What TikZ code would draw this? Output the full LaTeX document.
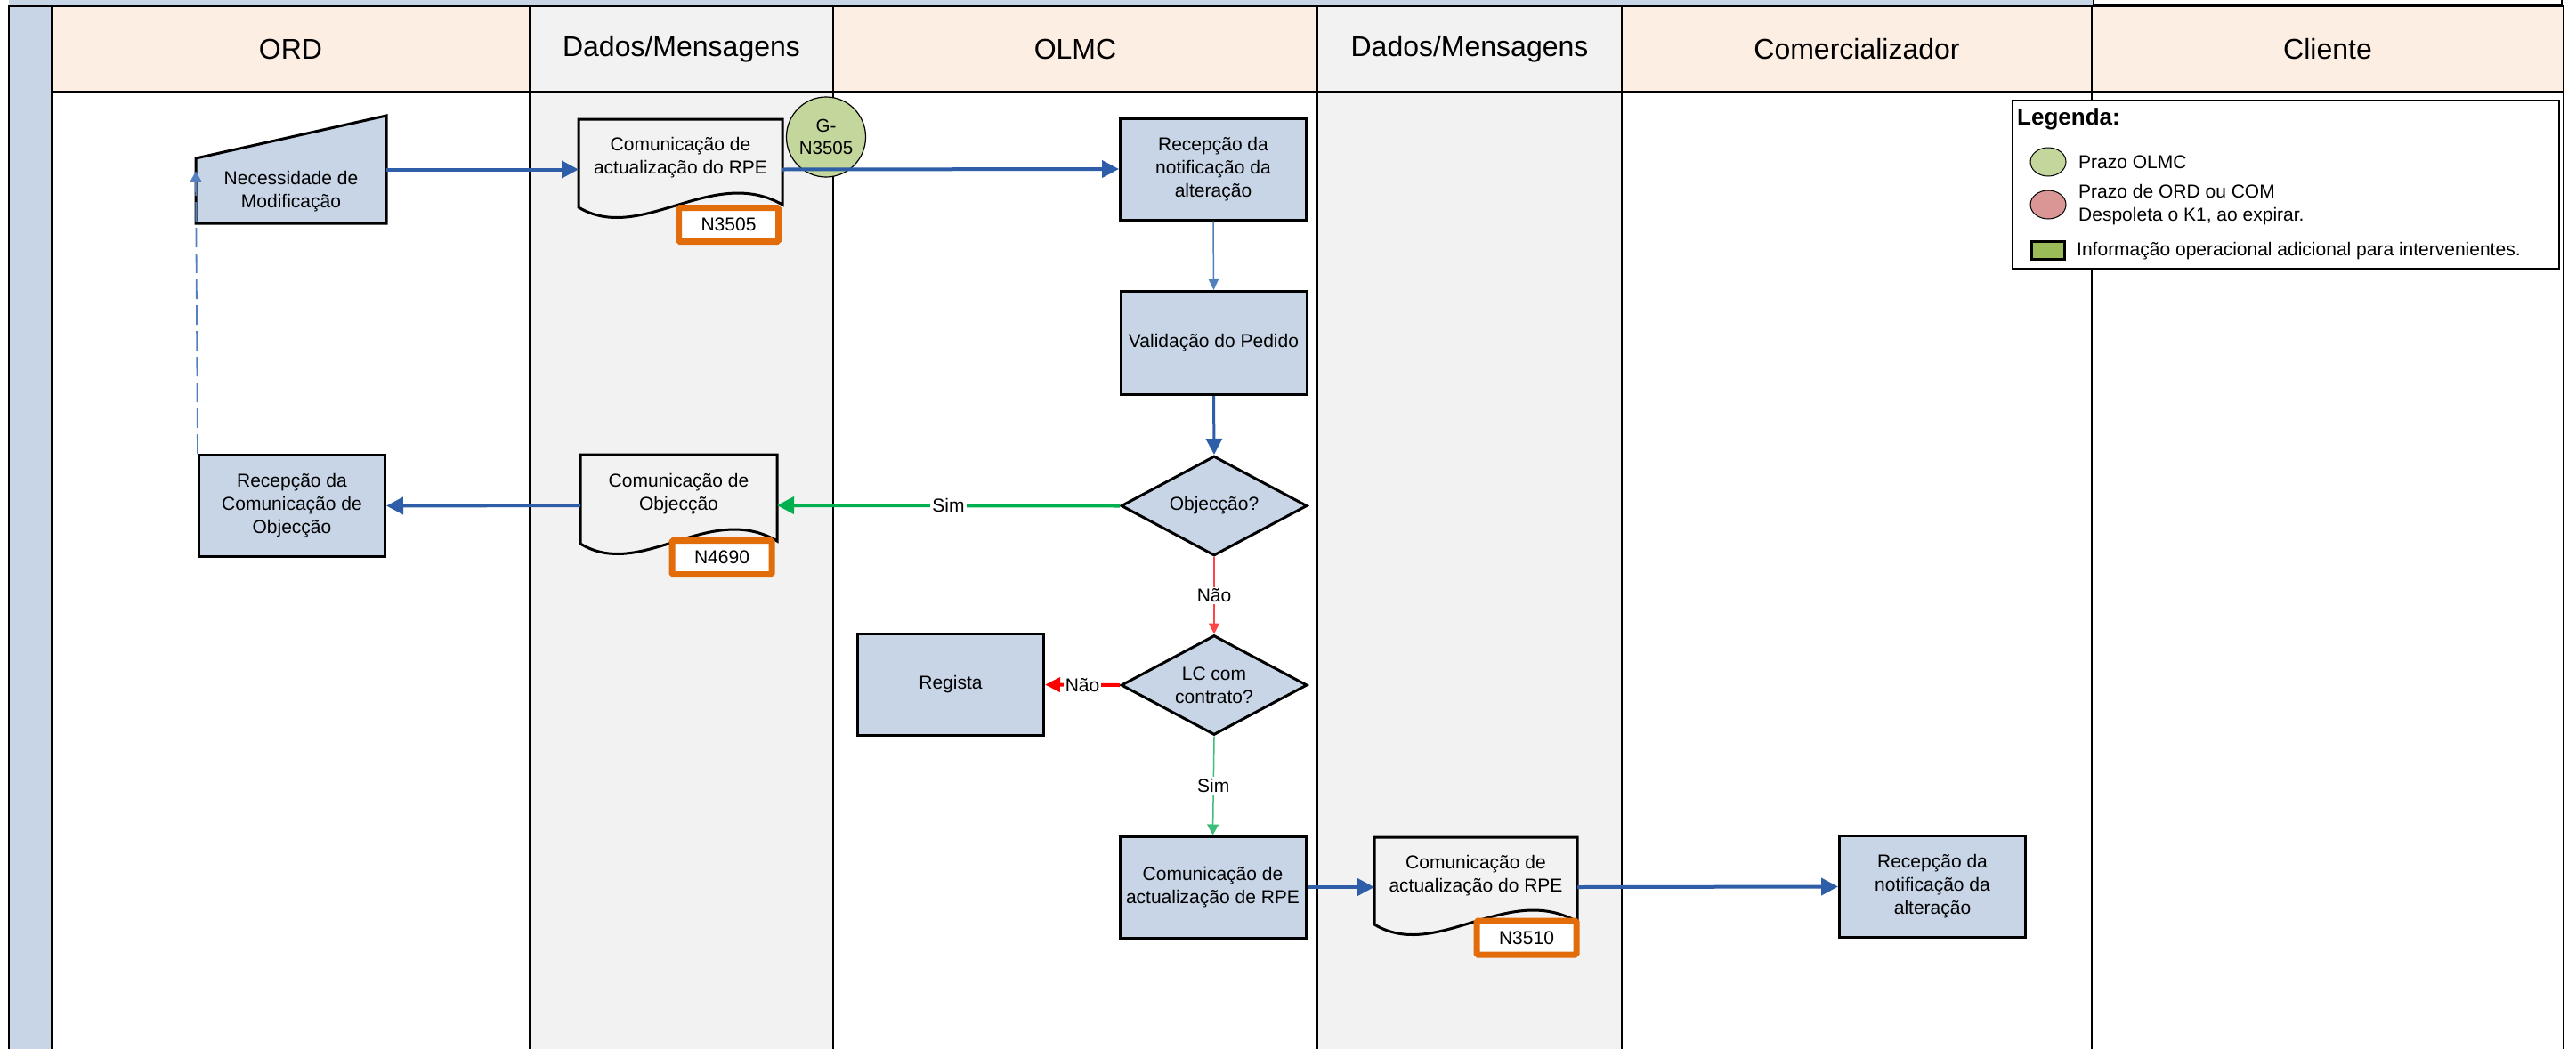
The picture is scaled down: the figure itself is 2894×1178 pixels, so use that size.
\documentclass[tikz,border=0pt]{standalone}
\usepackage{fontspec}
\setmainfont{Liberation Sans}
\usetikzlibrary{arrows.meta,shapes.geometric}
\newcommand{\myfont}{\fontsize{21pt}{26pt}\selectfont}
\definecolor{boxfill}{RGB}{200,213,230}
\definecolor{headpeach}{RGB}{253,238,227}
\definecolor{lanegray}{RGB}{242,242,242}
\definecolor{flowblue}{RGB}{46,94,168}
\definecolor{thinblue}{RGB}{79,129,189}
\definecolor{dashblue}{RGB}{84,128,192}
\definecolor{okgreen}{RGB}{0,176,80}
\definecolor{thingreen}{RGB}{60,190,120}
\definecolor{nored}{RGB}{255,0,0}
\definecolor{thinred}{RGB}{255,70,70}
\definecolor{tagorange}{RGB}{226,108,10}
\definecolor{olmcgreen}{RGB}{195,214,155}
\definecolor{ordred}{RGB}{217,150,148}
\definecolor{infogreen}{RGB}{155,187,89}
\newcommand{\docpath}[3]{\path[docline] ([yshift=17pt]#1.south east) .. controls ([xshift=#3pt,yshift=62pt]#1.south west) and ([xshift=#2pt,yshift=-28pt]#1.south west) .. ([yshift=14pt]#1.south west) -- (#1.north west) -- (#1.north east) -- cycle;}
\begin{document}
\begin{tikzpicture}[x=1pt,y=-1pt,
  lanebox/.style={draw=black,line width=1.5pt},
  headtext/.style={font=\fontsize{32pt}{38pt}\selectfont,inner sep=0pt},
  procbox/.style={draw=black,line width=3pt,fill=boxfill,minimum width=209pt,minimum height=114pt,inner sep=0pt,align=center,font=\myfont},
  decbox/.style={diamond,shape aspect=1.85,draw=black,line width=3pt,fill=boxfill,minimum width=209pt,minimum height=112pt,inner sep=0pt,align=center,font=\myfont},
  holder/.style={inner sep=0pt,outer sep=0pt},
  docline/.style={draw=black,line width=3pt,fill=lanegray},
  plain/.style={align=center,font=\myfont,inner sep=0pt},
  tagbox/.style={draw=tagorange,line width=7pt,fill=white,minimum width=112pt,minimum height=38pt,inner sep=0pt,font=\myfont,rounded corners=1.5pt},
  bigflow/.style={draw=flowblue,line width=4pt,-{Triangle[length=19pt,width=19pt]}},
  midflow/.style={draw=flowblue,line width=3pt,-{Triangle[length=18pt,width=18pt]}},
  thinflow/.style={draw=thinblue,line width=1.5pt,-{Triangle[length=12pt,width=11pt]}},
  dashflow/.style={draw=dashblue,line width=1.8pt,dash pattern=on 22pt off 7pt,-{Triangle[length=12pt,width=13pt]}},
  greenflow/.style={draw=okgreen,line width=4pt,-{Triangle[length=19pt,width=19pt]}},
  greenthin/.style={draw=thingreen,line width=1.5pt,-{Triangle[length=12pt,width=13pt]}},
  redthin/.style={draw=thinred,line width=1.5pt,-{Triangle[length=12pt,width=12pt]}},
  redthick/.style={draw=nored,line width=4pt,-{Triangle[length=17pt,width=16pt]}},
  elabel/.style={fill=white,inner sep=2pt,font=\myfont,text=black},
  legtext/.style={anchor=west,font=\myfont,inner sep=0pt,align=left}
]
\useasboundingbox (0,0) rectangle (2894,1178);
% top strip
\fill[boxfill] (10,0) rectangle (2352,6);
\filldraw[fill=white,draw=black,line width=1.5pt] (2352,-3) rectangle (2878,6);
% left bar
\filldraw[fill=boxfill,lanebox] (10,6.5) rectangle (58,1185);
% header cells
\filldraw[fill=headpeach,lanebox] (58,6.5) rectangle (595,103);
\filldraw[fill=lanegray,lanebox] (595,6.5) rectangle (936,103);
\filldraw[fill=headpeach,lanebox] (936,6.5) rectangle (1480,103);
\filldraw[fill=lanegray,lanebox] (1480,6.5) rectangle (1822,103);
\filldraw[fill=headpeach,lanebox] (1822,6.5) rectangle (2350,103);
\filldraw[fill=headpeach,lanebox] (2350,6.5) rectangle (2880,103);
\draw[line width=2pt] (10,6.5) -- (2880,6.5);
% lane bodies
\filldraw[fill=white,lanebox] (58,103) rectangle (595,1185);
\filldraw[fill=lanegray,lanebox] (595,103) rectangle (936,1185);
\filldraw[fill=white,lanebox] (936,103) rectangle (1480,1185);
\filldraw[fill=lanegray,lanebox] (1480,103) rectangle (1822,1185);
\filldraw[fill=white,lanebox] (1822,103) rectangle (2350,1185);
\filldraw[fill=white,lanebox] (2350,103) rectangle (2880,1185);
% header texts
\node[headtext] (hORD) at (326.5,55) {ORD};
\node[headtext] (hDA) at (765.5,55) {Dados/Mensagens};
\node[headtext] (hOLMC) at (1208,55) {OLMC};
\node[headtext] (hDB) at (1651,55) {Dados/Mensagens};
\node[headtext] (hCOM) at (2086,55) {Comercializador};
\node[headtext] (hCLI) at (2615,55) {Cliente};
% Necessidade de Modificacao (manual input)
\node[holder,minimum width=214pt,minimum height=121pt] (nec) at (327,190.5) {};
\path[draw=black,line width=3pt,fill=boxfill] (nec.south west) -- (nec.south east) -- (nec.north east) -- ([yshift=-48pt]nec.north west) -- cycle;
\node[plain] (necT) at (327,215) {Necessidade de\\Modificação};
% document 1
\node[holder,minimum width=229pt,minimum height=113pt] (doc1) at (764.5,190.5) {};
\docpath{doc1}{70}{150}
\node[plain] (doc1T) at ([yshift=13pt]doc1.center) {Comunicação de\\actualização do RPE};
\node[tagbox] (tag1) at (818.5,252.5) {N3505};
% G-N3505
\node[ellipse,draw=black,line width=1.2pt,fill=olmcgreen,minimum width=89pt,minimum height=90pt,inner sep=0pt,align=center,font=\fontsize{20.5pt}{25pt}\selectfont] (gn) at (928,154) {G-\\N3505};
% OLMC column
\node[procbox] (rec1) at (1363,190) {Recepção da\\notificação da\\alteração};
\node[procbox,minimum height=116pt] (val) at (1363.5,385.5) {Validação do Pedido};
\node[decbox] (obj) at (1364,568.5) {Objecção?};
\node[decbox] (lc) at (1364,770) {LC com\\contrato?};
\node[procbox] (reg) at (1068,769.5) {Regista};
\node[procbox] (com) at (1362.5,997) {Comunicação de\\actualização de RPE};
% document 2
\node[holder,minimum width=221pt,minimum height=114pt] (doc2) at (762.5,568) {};
\docpath{doc2}{68}{145}
\node[plain] (doc2T) at ([yshift=13pt]doc2.center) {Comunicação de\\Objecção};
\node[tagbox] (tag2) at (811,626.5) {N4690};
% Recepcao Objeccao
\node[procbox] (rco) at (328,568.5) {Recepção da\\Comunicação de\\Objecção};
% document 3
\node[holder,minimum width=228pt,minimum height=112pt] (doc3) at (1658,997) {};
\docpath{doc3}{70}{150}
\node[plain] (doc3T) at ([yshift=13pt]doc3.center) {Comunicação de\\actualização do RPE};
\node[tagbox] (tag3) at (1715,1054) {N3510};
% Comercializador
\node[procbox] (rec2) at (2171,996.5) {Recepção da\\notificação da\\alteração};
% connectors
\draw[bigflow] (nec.east) -- (doc1.west);
\draw[bigflow] (doc1.east) -- (rec1.west);
\draw[thinflow] (rec1.south) -- (val.north);
\draw[midflow] (val.south) -- (obj.north);
\draw[greenflow] (obj.west) -- node[elabel] {Sim} (doc2.east);
\draw[bigflow] (doc2.west) -- (rco.east);
\draw[redthin] (obj.south) -- node[elabel] {Não} (lc.north);
\draw[redthick] (lc.west) -- node[elabel] {Não} (reg.east);
\draw[greenthin] (lc.south) -- node[elabel] {Sim} (com.north);
\draw[bigflow] (com.east) -- (doc3.west);
\draw[bigflow] (doc3.east) -- (rec2.west);
\draw[dashflow] (rco.north west) -- ([yshift=-2pt]nec.west);
% legend
\node[draw=black,line width=1.2pt,fill=white,minimum width=614pt,minimum height=189pt,inner sep=0pt] (legend) at (2568,207.5) {};
\node[anchor=west,font=\bfseries\fontsize{26pt}{30pt}\selectfont,inner sep=0pt] (legT) at (2266,134) {Legenda:};
\node[ellipse,draw=black,line width=1pt,fill=olmcgreen,minimum width=40pt,minimum height=32pt,inner sep=0pt] (legG) at (2301,182) {};
\node[legtext] (legGT) at (2335,182) {Prazo OLMC};
\node[ellipse,draw=black,line width=1pt,fill=ordred,minimum width=40pt,minimum height=32pt,inner sep=0pt] (legR) at (2301,230) {};
\node[legtext] (legRT) at (2335,230) {Prazo de ORD ou COM\\Despoleta o K1, ao expirar.};
\node[draw=black,line width=3pt,fill=infogreen,minimum width=37pt,minimum height=20pt,inner sep=0pt] (legS) at (2301,281.5) {};
\node[legtext] (legST) at (2333,282) {Informação operacional adicional para intervenientes.};
\end{tikzpicture}
\end{document}
